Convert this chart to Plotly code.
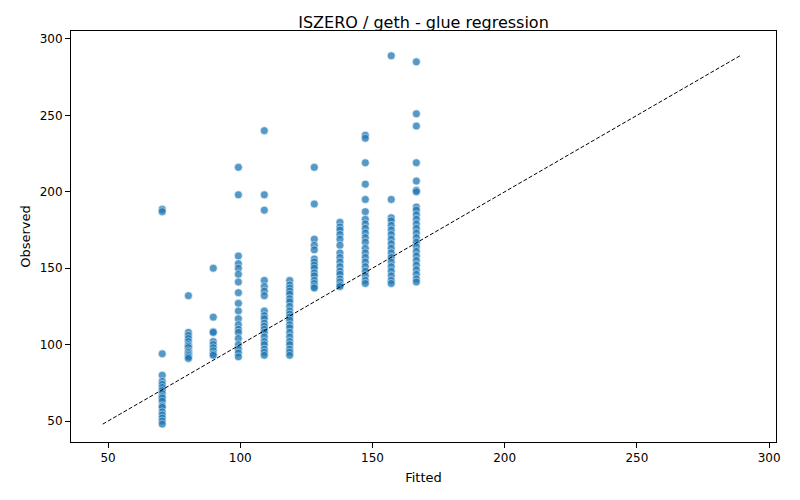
import plotly.graph_objects as go

fitted_levels = [70.5, 80.4, 89.8, 99.3, 109.1, 118.7, 128.0, 137.7, 147.3, 157.1, 166.6]
obs_70 = [188.5, 187, 94, 80, 76, 74, 72, 70, 68, 66, 65, 63, 60, 59, 56, 54, 52, 50, 48]
obs_80 = [132, 108, 106, 104, 102, 100, 99, 98, 96, 95, 94, 93, 92, 91]
obs_89 = [150, 118, 108.5, 108, 102, 100, 98, 96, 94, 93]
obs_99 = [216, 198, 158, 153, 150, 146, 141, 134, 127, 122, 117, 113, 110, 108, 104, 100, 97, 94.5, 92]
obs_109 = [240, 198, 188, 142, 138, 135, 132, 122, 119, 117, 114, 112, 110, 108, 105, 102, 100, 97, 95, 93]
obs_118 = [142, 139, 137, 135, 133, 130, 128, 125, 122, 120, 118, 116, 113, 111, 108, 105, 102, 100, 97, 95, 93]
obs_128 = [216, 192, 169, 165, 162, 156, 154, 152, 150, 147, 145, 142, 140, 138, 137]
obs_137 = [180, 177, 175, 172, 169, 165, 160, 157, 154, 151, 148, 146, 143, 141, 139, 138]
obs_147 = [237, 235, 219, 205, 195, 187, 182, 179, 176, 173, 170, 167, 163, 160, 157, 154, 151, 148, 145, 142, 140]
obs_157 = [289, 195, 183, 181, 178, 175, 172, 169, 166, 163, 160, 157, 154, 151, 148, 145, 142, 140]
obs_166 = [285, 251, 243, 219, 207, 201, 200, 190, 188, 185, 182, 179, 176, 173, 170, 167, 164,
           161, 158, 155, 152, 149, 146, 143, 141]

observed_groups = [obs_70, obs_80, obs_89, obs_99, obs_109, obs_118,
                   obs_128, obs_137, obs_147, obs_157, obs_166]

xs, ys = [], []
for f, obs in zip(fitted_levels, observed_groups):
    xs += [f] * len(obs)
    ys += obs

lo = min(xs + ys)
hi = max(xs + ys)

FONT = "DejaVu Sans"

fig = go.Figure()
fig.add_trace(go.Scatter(
    x=xs, y=ys, mode="markers",
    marker=dict(color="#1f77b4", size=8, opacity=0.75,
                line=dict(color="white", width=0.6)),
    showlegend=False,
))
fig.add_trace(go.Scatter(
    x=[lo, hi], y=[lo, hi], mode="lines",
    line=dict(color="black", dash="4px,2px", width=1),
    showlegend=False, hoverinfo="skip",
))

axis_common = dict(
    showgrid=False, zeroline=False, showline=True, linecolor="black", linewidth=1,
    mirror=True, ticks="outside", ticklen=5, tickcolor="black",
    tickfont=dict(family=FONT, size=12, color="black"),
)
# page body adds an 8px offset, so margins are shifted to compensate
fig.update_layout(
    width=800, height=500,
    title=dict(text="ISZERO / geth - glue regression", xref="paper", x=0.5, xanchor="center",
               yref="container", y=0.972, yanchor="middle",
               font=dict(family=FONT, size=16, color="black")),
    xaxis=dict(range=[36.0, 302.6], tickvals=[50, 100, 150, 200, 250, 300],
               title=dict(text="Fitted", font=dict(family=FONT, size=13, color="black"), standoff=8),
               **axis_common),
    yaxis=dict(range=[36.3, 305.2], tickvals=[50, 100, 150, 200, 250, 300],
               title=dict(text="Observed", font=dict(family=FONT, size=13, color="black"), standoff=6),
               **axis_common),
    margin=dict(l=63, r=32, t=23, b=66),
    plot_bgcolor="white", paper_bgcolor="white",
)
fig.write_html("out.html")
